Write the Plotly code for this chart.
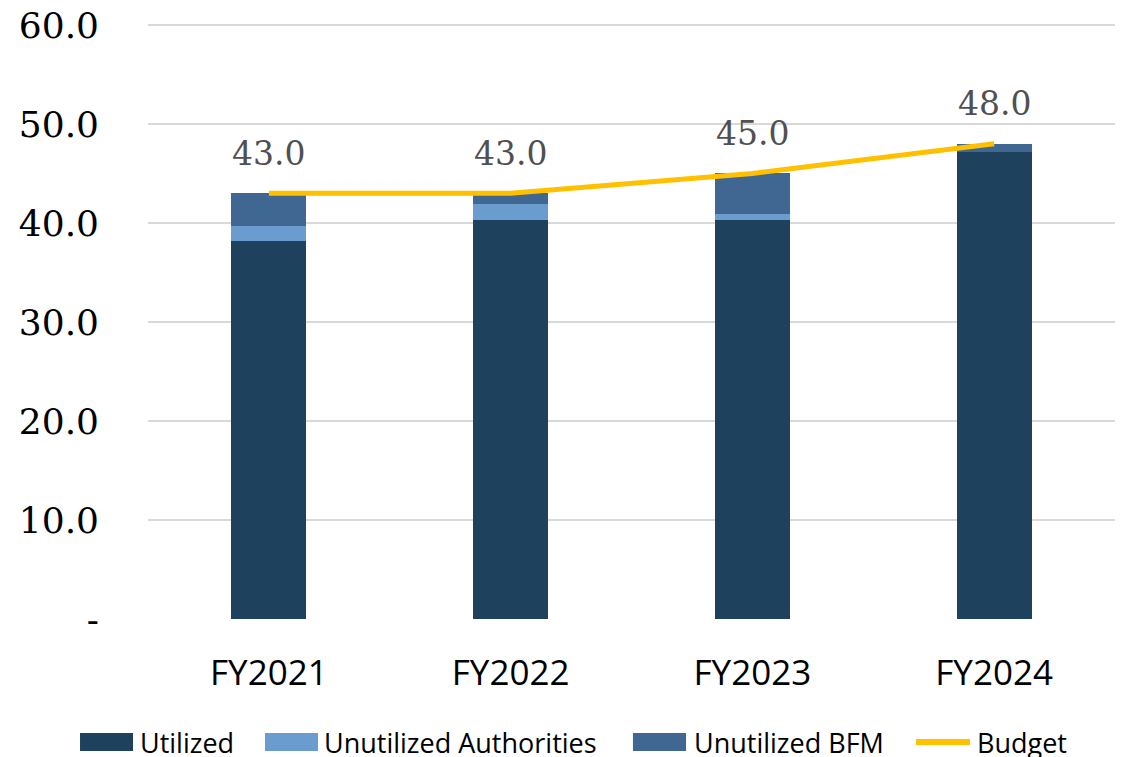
import plotly.graph_objects as go

categories = ["FY2021", "FY2022", "FY2023", "FY2024"]
utilized = [38.2, 40.3, 40.3, 47.2]
unutilized_auth = [1.5, 1.6, 0.6, 0.0]
unutilized_bfm = [3.3, 1.1, 4.1, 0.8]
budget = [43.0, 43.0, 45.0, 48.0]
budget_labels = ["43.0", "43.0", "45.0", "48.0"]
ytick_vals = [0, 10, 20, 30, 40, 50, 60]
ytick_text = ["-", "10.0", "20.0", "30.0", "40.0", "50.0", "60.0"]

series_names = ["Utilized", "Unutilized Authorities", "Unutilized BFM", "Budget"]
colors = ["#1e415e", "#6a9ccf", "#3f6792", "#ffc000"]

fig = go.Figure()
for name, vals, col in zip(series_names[:3], [utilized, unutilized_auth, unutilized_bfm], colors[:3]):
    fig.add_bar(x=categories, y=vals, name=name, marker_color=col, marker_line_width=0)
fig.add_scatter(x=categories, y=budget, name="Budget", mode="lines",
                line=dict(color=colors[3], width=5))

for c, v, t in zip(categories, budget, budget_labels):
    fig.add_annotation(x=c, y=v, text=t, showarrow=False, yshift=40,
                       font=dict(family="DejaVu Serif", size=33, color="#505050"))

# custom legend (layout positions in paper coordinates)
legend_swatch_x = [(-0.0703, -0.0155), (0.121, 0.1758), (0.5015, 0.5564), (0.7942, 0.8501)]
legend_text_x = [-0.0103, 0.1799, 0.5626, 0.8552]
ly_mid, ly0, ly1 = -0.2064, -0.2215, -0.1913
for i, (name, col) in enumerate(zip(series_names, colors)):
    x0, x1 = legend_swatch_x[i]
    if name == "Budget":
        fig.add_shape(type="line", xref="paper", yref="paper", x0=x0, x1=x1,
                      y0=ly_mid, y1=ly_mid, line=dict(color=col, width=6))
    else:
        fig.add_shape(type="rect", xref="paper", yref="paper", x0=x0, x1=x1,
                      y0=ly0, y1=ly1, fillcolor=col, line=dict(width=0))
    fig.add_annotation(xref="paper", yref="paper", x=legend_text_x[i], y=ly_mid,
                       text=name, showarrow=False, xanchor="left", yanchor="middle",
                       font=dict(family="Open Sans", size=27, color="#000000"))

fig.update_layout(
    barmode="stack",
    bargap=0.69,
    width=1119, height=757,
    margin=dict(l=140, r=12, t=15, b=146, autoexpand=False),
    plot_bgcolor="white", paper_bgcolor="white",
    showlegend=False,
    xaxis=dict(tickfont=dict(family="Open Sans", size=35, color="#000000"),
               showgrid=False, showline=False, ticks="", ticklabelstandoff=30),
    yaxis=dict(range=[0, 60.2], tickvals=ytick_vals, ticktext=ytick_text,
               tickfont=dict(family="DejaVu Serif", size=36, color="#000000"),
               ticklabeloverflow="allow",
               showgrid=True, gridcolor="#d9d9d9", gridwidth=1.5,
               zeroline=False, showline=False, ticks="", ticklabelstandoff=48),
)

fig.write_html("out.html")
